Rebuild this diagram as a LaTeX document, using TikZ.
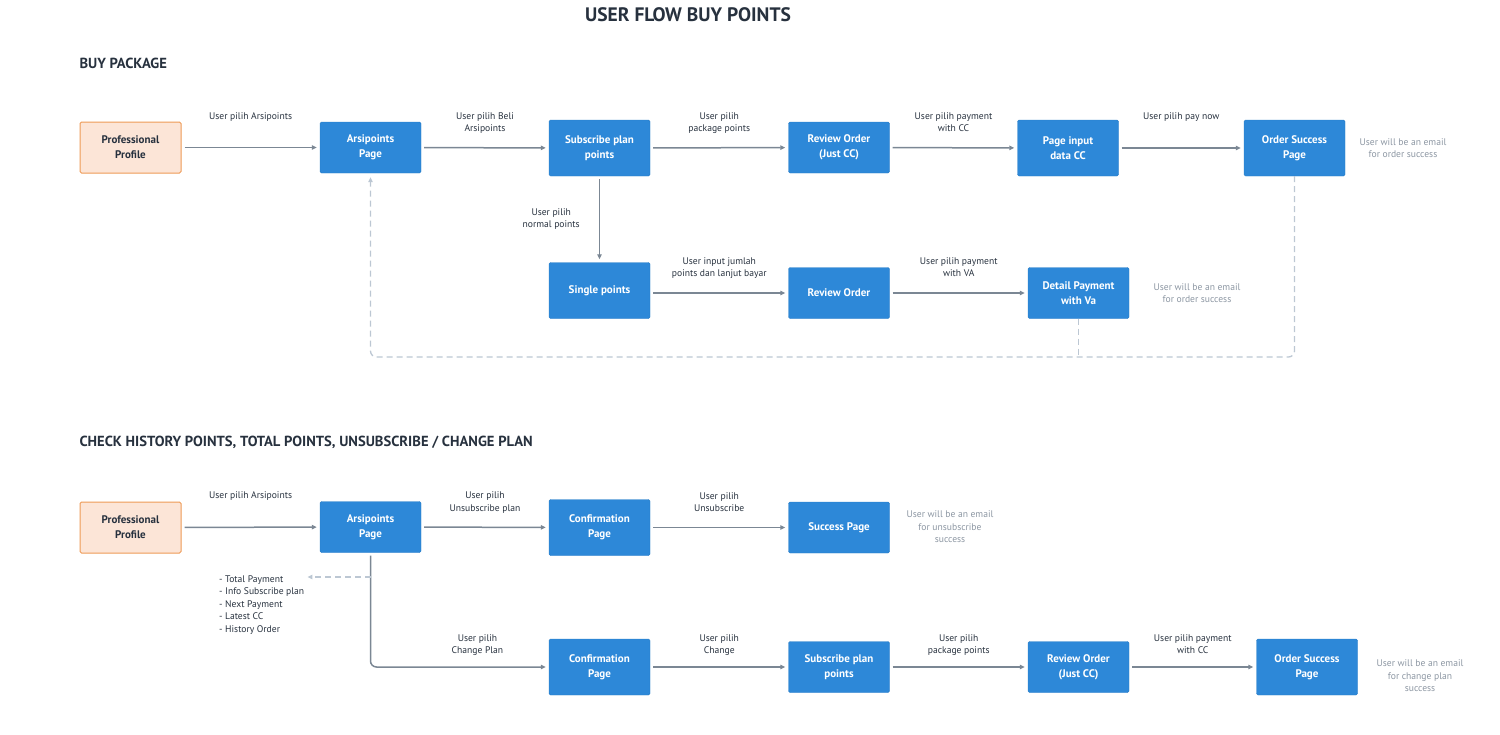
\documentclass[tikz,border=0pt]{standalone}
\usepackage{fontspec}
\setmainfont{PT Sans}
\usetikzlibrary{arrows.meta, positioning}
\definecolor{boxblue}{HTML}{2D88D8}
\definecolor{profline}{HTML}{EE9A55}
\definecolor{proffill}{HTML}{FCE5D7}
\definecolor{flowgray}{HTML}{7B8794}
\definecolor{loopgray}{HTML}{BCC7D3}
\definecolor{notegray}{HTML}{8C96A2}
\definecolor{inkdark}{HTML}{27313E}

\begin{document}
\begin{tikzpicture}[
  x=1pt, y=-1pt,
  page/.style={rectangle, draw=boxblue!92!black, fill=boxblue, rounded corners=1.5pt,
               minimum width=101pt, minimum height=51pt, align=center, text=white,
               font=\fontsize{11}{15}\selectfont\bfseries},
  tallpage/.style={page, minimum height=56pt},
  profbox/.style={page, draw=profline, fill=proffill, text=inkdark, line width=1pt},
  arrow/.style={-{Triangle[length=5pt,width=4.5pt]}, line width=1.5pt, draw=flowgray,
                shorten <=3pt, shorten >=3pt},
  loopline/.style={line width=1.3pt, draw=loopgray, dash pattern=on 6pt off 4pt},
  backarrow/.style={loopline, -{Triangle[length=5pt,width=4.5pt]}, shorten >=4pt},
  elbl/.style={font=\fontsize{9.6}{12.3}\selectfont, text=inkdark, align=center, inner sep=1pt},
  lblup/.style={elbl, anchor=north, yshift=37pt},
  note/.style={font=\fontsize{9.6}{12.5}\selectfont, text=notegray, align=center},
  heading/.style={font=\fontsize{14.6}{17}\selectfont\bfseries, text=inkdark, anchor=west}
]
\useasboundingbox (0,0) rectangle (1500,734);

% titles
\node[font=\fontsize{19.5}{22}\selectfont\bfseries, text=inkdark] (title) at (688,15) {USER FLOW BUY POINTS};
\node[heading] (buyhead) at (76,63) {BUY PACKAGE};
\node[heading] (checkhead) at (76,442) {CHECK HISTORY POINTS, TOTAL POINTS, UNSUBSCRIBE / CHANGE PLAN};

% buy package
\node[profbox]  (prof)    at (130.5,147.5) {Professional\\Profile};
\node[page]     (arsi)    at (370.5,147.5) {Arsipoints\\Page};
\node[tallpage] (subs)    at (599.5,148)   {Subscribe plan\\points};
\node[page]     (revcc)   at (839,147.5)   {Review Order\\(Just CC)};
\node[tallpage] (inputcc) at (1068,148)    {Page input\\data CC};
\node[tallpage] (ordok)   at (1294.5,148)  {Order Success\\Page};
\node[note]     (mailA)   at (1403,148)    {User will be an email\\for order success};

\node[tallpage] (single)  at (599.5,290.5) {Single points};
\node[page]     (review)  at (839,293)     {Review Order};
\node[page]     (detail)  at (1078.5,293)  {Detail Payment\\with Va};
\node[note]     (mailB)   at (1197,293)    {User will be an email\\for order success};

\draw[arrow] (prof) -- node[lblup]{User pilih Arsipoints} (arsi);
\draw[arrow] (arsi) -- node[lblup]{User pilih Beli\\Arsipoints} (subs);
\draw[arrow] (subs) -- node[lblup]{User pilih\\package points} (revcc);
\draw[arrow] (revcc) -- node[lblup]{User pilih payment\\with CC} (inputcc);
\draw[arrow] (inputcc) -- node[lblup]{User pilih pay now} (ordok);
\draw[arrow] (subs) -- node[elbl, left=18pt]{User pilih\\normal points} (single);
\draw[arrow] (single.east |- review) -- node[lblup]{User input jumlah\\points dan lanjut bayar} (review);
\draw[arrow] (review) -- node[lblup]{User pilih payment\\with VA} (detail);

\coordinate (loopbot) at (370.5,357);
\draw[backarrow, rounded corners=6pt] (ordok.south) |- (loopbot) -- (arsi.south);
\draw[loopline] (detail.south) -- (detail.south |- loopbot);

% check history / unsubscribe / change plan
\node[profbox]  (prof2)   at (130.5,527.5) {Professional\\Profile};
\node[page]     (arsi2)   at (370.5,527)   {Arsipoints\\Page};
\node[tallpage] (confA)   at (599.5,527.5) {Confirmation\\Page};
\node[page]     (success) at (839,527.5)   {Success Page};
\node[note]     (mailC)   at (950,527)     {User will be an email\\for unsubscribe\\success};

\node[tallpage] (confB)   at (599.5,667)   {Confirmation\\Page};
\node[page]     (subs2)   at (839,667)     {Subscribe plan\\points};
\node[page]     (revcc2)  at (1078.5,667)  {Review Order\\(Just CC)};
\node[tallpage] (ordok2)  at (1307,667)    {Order Success\\Page};
\node[note]     (mailD)   at (1420,676)    {User will be an email\\for change plan\\success};

\node[elbl, align=left, anchor=north west, font=\fontsize{9.6}{12.5}\selectfont] (histlist) at (218,574)
  {- Total Payment\\- Info Subscribe plan\\- Next Payment\\- Latest CC\\- History Order};

\draw[arrow] (prof2) -- node[lblup]{User pilih Arsipoints} (arsi2);
\draw[arrow] (arsi2) -- node[lblup]{User pilih\\Unsubscribe plan} (confA);
\draw[arrow] (confA) -- node[lblup]{User pilih\\Unsubscribe} (success);
\draw[arrow, rounded corners=6pt] (arsi2.south) |- node[pos=0.8, lblup, yshift=-3pt]{User pilih\\Change Plan} (confB.west);
\draw[arrow] (confB) -- node[lblup, yshift=-3pt]{User pilih\\Change} (subs2);
\draw[arrow] (subs2) -- node[lblup, yshift=-3pt]{User pilih\\package points} (revcc2);
\draw[arrow] (revcc2) -- node[lblup, yshift=-3pt]{User pilih payment\\with CC} (ordok2);

\coordinate (lst) at (370.5,577);
\draw[backarrow, shorten >=2pt] (lst) -- (lst -| histlist.east);
\end{tikzpicture}
\end{document}
